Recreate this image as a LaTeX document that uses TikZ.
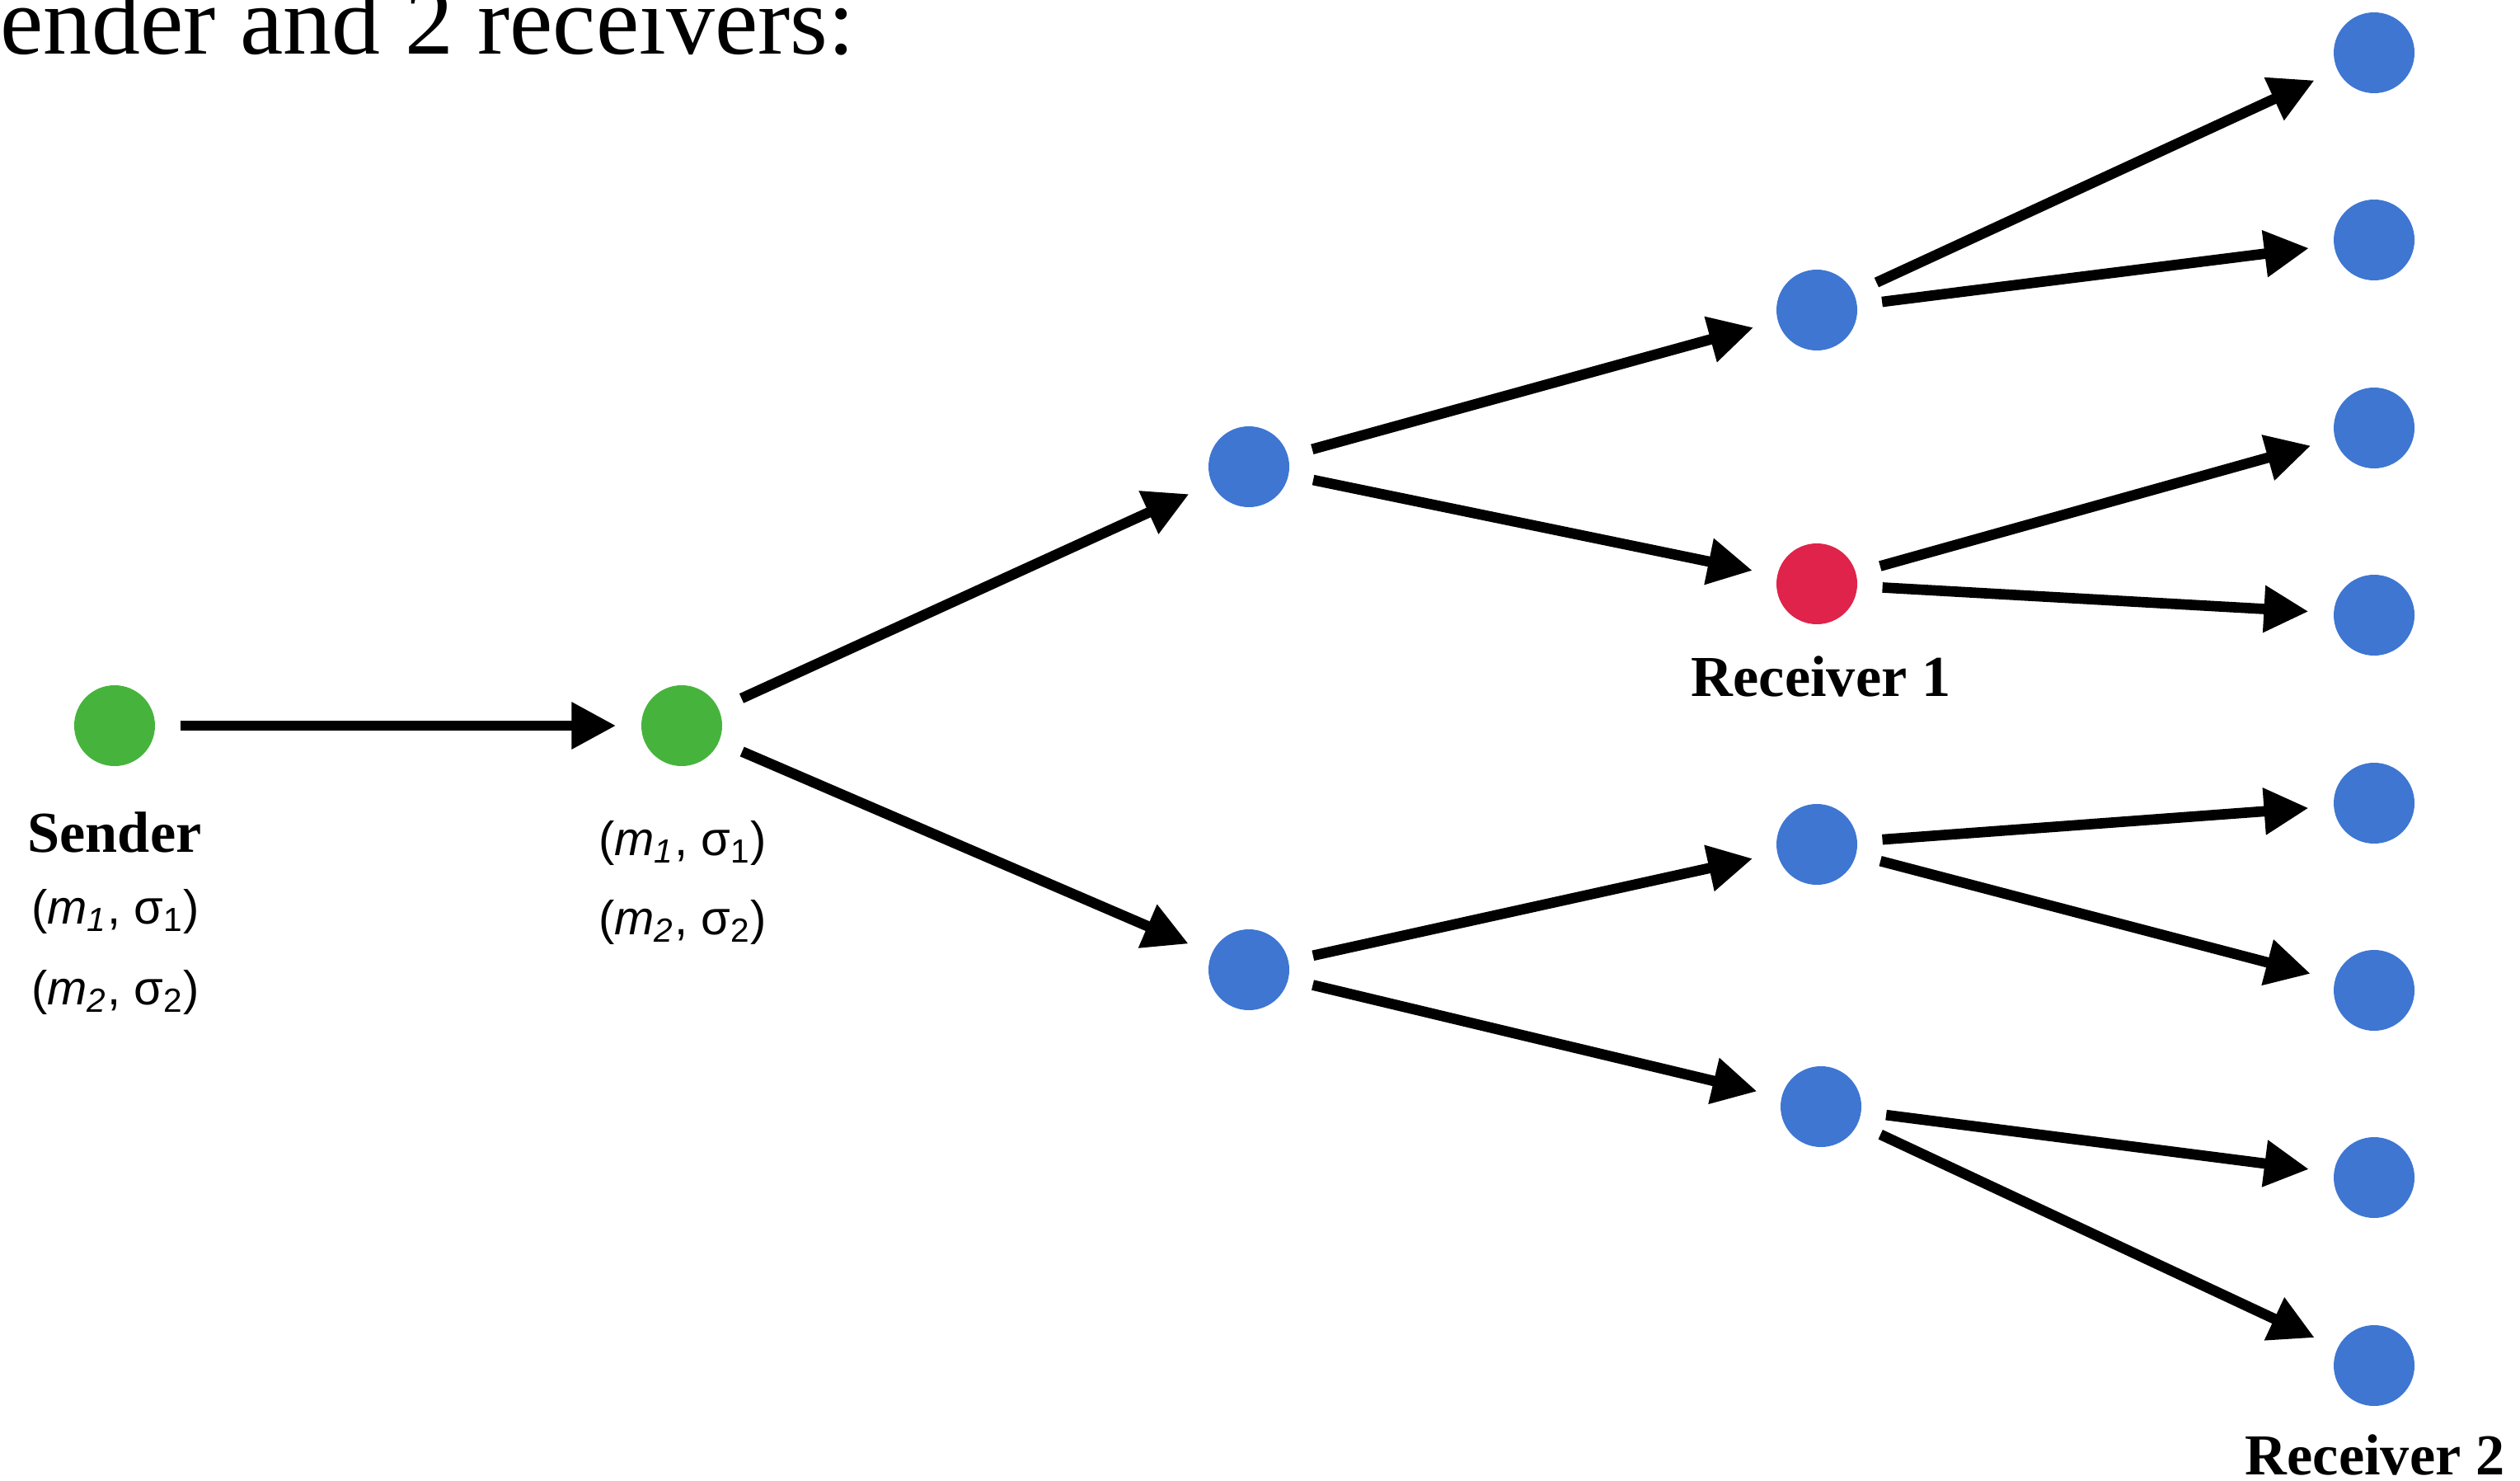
\documentclass[tikz,border=0pt]{standalone}
\usepackage{fontspec}
\setmainfont{Liberation Serif}
\newfontfamily\pairfont{Liberation Sans}
\usetikzlibrary{arrows.meta,positioning}
\definecolor{sendgreen}{RGB}{70,180,60}
\definecolor{nodeblue}{RGB}{62,118,210}
\definecolor{recvred}{RGB}{224,35,74}
\newcommand{\pairlabel}[1]{{\pairfont(\textit{m}\textsubscript{\textit{#1}}, σ\textsubscript{#1})}}

\begin{document}
\begin{tikzpicture}[dot/.style={circle,inner sep=0pt,minimum size=0.98cm},
  link/.style={line width=3.6pt,-{Triangle[length=5.4mm,width=5.4mm]},shorten <=3mm,shorten >=3mm},
  tag/.style={anchor=base,font=\fontsize{20}{24}\selectfont\bfseries},
  pair/.style={anchor=base,font=\fontsize{16.5}{20}\selectfont}]
\useasboundingbox (0,0) rectangle (30.57,-17.96);
\node[anchor=base west,inner sep=0pt,font=\fontsize{33.5}{40}\selectfont] (title) at (0,-0.66) {ender and 2 receivers:};
% sender and relay
\node[dot,fill=sendgreen] (s) at (1.39,-8.80) {};
\node[dot,fill=sendgreen] (r) at (8.27,-8.80) {};
% second level
\node[dot,fill=nodeblue] (a1) at (15.15,-5.66) {};
\node[dot,fill=nodeblue] (a2) at (15.15,-11.76) {};
% third level
\node[dot,fill=nodeblue] (b1) at (22.04,-3.76) {};
\node[dot,fill=recvred] (b2) at (22.04,-7.08) {};
\node[dot,fill=nodeblue] (b3) at (22.04,-10.24) {};
\node[dot,fill=nodeblue] (b4) at (22.09,-13.42) {};
% leaves
\node[dot,fill=nodeblue] (c1) at (28.80,-0.64) {};
\node[dot,fill=nodeblue] (c2) at (28.80,-2.91) {};
\node[dot,fill=nodeblue] (c3) at (28.80,-5.19) {};
\node[dot,fill=nodeblue] (c4) at (28.80,-7.46) {};
\node[dot,fill=nodeblue] (c5) at (28.80,-9.74) {};
\node[dot,fill=nodeblue] (c6) at (28.80,-12.01) {};
\node[dot,fill=nodeblue] (c7) at (28.80,-14.28) {};
\node[dot,fill=nodeblue] (c8) at (28.80,-16.56) {};
\draw[link] (s)--(r);
\draw[link] (r)--(a1);
\draw[link] (r)--(a2);
\draw[link] (a1)--(b1);
\draw[link] (a1)--(b2);
\draw[link] (a2)--(b3);
\draw[link] (a2)--(b4);
\draw[link] (b1)--(c1);
\draw[link] (b1)--(c2);
\draw[link] (b2)--(c3);
\draw[link] (b2)--(c4);
\draw[link] (b3)--(c5);
\draw[link] (b3)--(c6);
\draw[link] (b4)--(c7);
\draw[link] (b4)--(c8);
% labels
\node[tag] (sname) at (1.39,-10.33) {Sender};
\node[pair] (sp1) at (1.40,-11.20) {\pairlabel{1}};
\node[pair] (sp2) at (1.40,-12.18) {\pairlabel{2}};
\node[pair] (rp1) at (8.28,-10.37) {\pairlabel{1}};
\node[pair] (rp2) at (8.28,-11.33) {\pairlabel{2}};
\node[tag] (rname1) at (22.09,-8.44) {Receiver 1};
\node[tag] (rname2) at (28.81,-17.88) {Receiver 2};
\end{tikzpicture}
\end{document}
